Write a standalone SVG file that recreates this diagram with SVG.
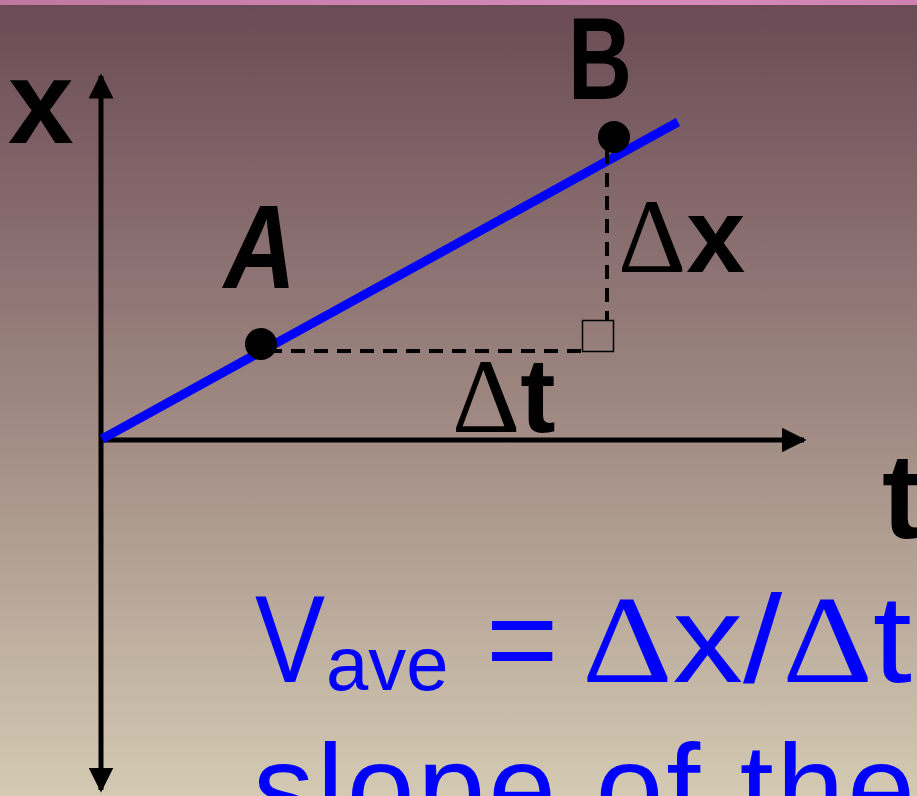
<svg xmlns="http://www.w3.org/2000/svg" width="917" height="796" viewBox="0 0 917 796">
<defs>
<linearGradient id="bg" x1="0" y1="0" x2="0" y2="1">
<stop offset="0" stop-color="#6a4a55"/>
<stop offset="0.5" stop-color="#9d8680"/>
<stop offset="1" stop-color="#d4cab3"/>
</linearGradient>
<linearGradient id="top" x1="0" y1="0" x2="1" y2="0">
<stop offset="0" stop-color="#bf78a0"/>
<stop offset="0.7" stop-color="#d68bbb"/>
<stop offset="1" stop-color="#cf82b0"/>
</linearGradient>
<marker id="ah" viewBox="0 0 10 10" refX="9" refY="5" markerWidth="5" markerHeight="5" orient="auto-start-reverse" markerUnits="strokeWidth">
<path d="M0,0 L10,5 L0,10 Z" fill="#000"/>
</marker>
<style>
.lbl{font-family:"Liberation Sans","DejaVu Sans",sans-serif;font-weight:bold;fill:#000}
.blue{font-family:"Liberation Sans","DejaVu Sans",sans-serif;fill:#0000ff}
.d{font-family:"Liberation Serif","DejaVu Serif",serif;font-weight:normal}
.axis{stroke:#000;stroke-width:5;fill:none}
.dash{stroke:#000;stroke-width:4;stroke-dasharray:14,9;fill:none}
</style>
</defs>
<rect width="917" height="796" fill="url(#bg)"/>
<rect width="917" height="5" fill="url(#top)"/>
<g id="connectors">
<line class="axis" x1="101" y1="790" x2="101" y2="76" marker-end="url(#ah)" marker-start="url(#ah)"/>
<line class="axis" x1="100" y1="440" x2="804" y2="440" marker-end="url(#ah)"/>
<line x1="102" y1="439" x2="678" y2="122" stroke="#0000ff" stroke-width="9"/>
<path class="dash" d="M268,351 H587"/>
<path class="dash" d="M607,150 V320"/>
<rect x="582.5" y="320.5" width="31" height="31" fill="none" stroke="#000" stroke-width="1.5"/>
</g>
<g id="pointA"><circle cx="261" cy="344" r="16" fill="#000"/><text class="lbl" x="224" y="288" font-size="118" font-style="italic" textLength="72" lengthAdjust="spacingAndGlyphs">A</text></g>
<g id="pointB"><circle cx="614" cy="137" r="16" fill="#000"/><text class="lbl" x="568" y="99" font-size="116" textLength="64" lengthAdjust="spacingAndGlyphs">B</text></g>
<g id="labels">
<text class="lbl" x="8" y="143" font-size="118">x</text>
<text class="lbl" x="618" y="272" font-size="106"><tspan class="d">Δ</tspan>x</text>
<text class="lbl" x="452" y="432" font-size="106"><tspan class="d">Δ</tspan>t</text>
<text class="lbl" x="882" y="538" font-size="120">t</text>
</g>
<g id="formula">
<text class="blue" x="255" y="682" font-size="124" textLength="70" lengthAdjust="spacingAndGlyphs">V</text>
<text class="blue" x="326" y="690" font-size="76">ave</text>
<text class="blue" x="486" y="682" font-size="124">=</text>
<text class="blue" x="582" y="682" font-size="124" textLength="330" lengthAdjust="spacingAndGlyphs"><tspan class="d">Δ</tspan>x/<tspan class="d">Δ</tspan>t</text>
<text class="blue" x="253" y="830" font-size="122" textLength="662" lengthAdjust="spacing">slope of the</text>
</g>
</svg>
